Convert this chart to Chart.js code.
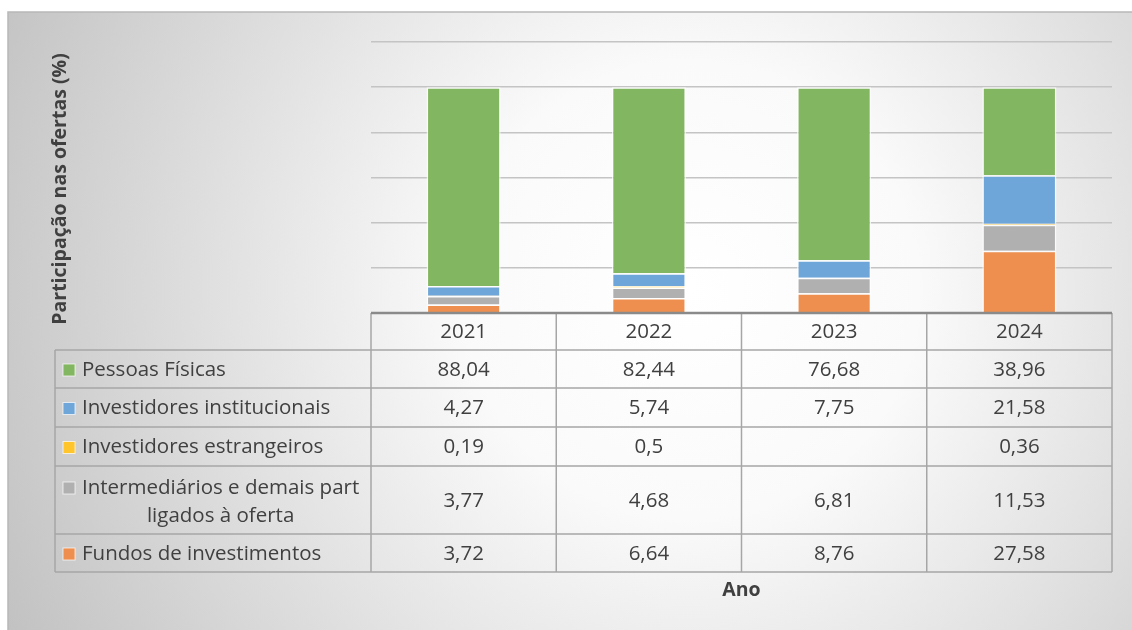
<!DOCTYPE html>
<html lang="pt">
<head>
<meta charset="utf-8">
<title>Participação nas ofertas</title>
<script src="https://cdn.jsdelivr.net/npm/chart.js@4.4.0/dist/chart.umd.min.js"></script>
<style>
	html, body { margin: 0; padding: 0; background: #ffffff; }
	#wrap { position: relative; width: 1132px; height: 630px; }
</style>
</head>
<body>
<div id="wrap"><canvas id="chart" width="1132" height="630"></canvas></div>
<script>
// data
const years = ["2021", "2022", "2023", "2024"];
const pessoasFisicas = [88.04, 82.44, 76.68, 38.96];
const institucionais = [4.27, 5.74, 7.75, 21.58];
const estrangeiros = [0.19, 0.5, null, 0.36];
const intermediarios = [3.77, 4.68, 6.81, 11.53];
const fundos = [3.72, 6.64, 8.76, 27.58];
const yTicks = [0, 20, 40, 60, 80, 100, 120];

// stack order bottom -> top
const series = [
	{ label: "Fundos de investimentos", data: fundos, color: "#ee8f4f" },
	{ label: "Intermediários e demais part ligados à oferta", lines: ["Intermediários e demais part", "ligados à oferta"], data: intermediarios, color: "#b0b0b0" },
	{ label: "Investidores estrangeiros", data: estrangeiros, color: "#ffc52a" },
	{ label: "Investidores institucionais", data: institucionais, color: "#6fa6d9" },
	{ label: "Pessoas Físicas", data: pessoasFisicas, color: "#83b660" }
];

const FONT = "'Open Sans', 'Noto Sans', sans-serif";
const TEXT = "#404040";
const LINE = "#a6a6a6";

function fmt(v) {
	if (v === null || v === undefined) return "";
	return String(v).replace(".", ",");
}

const tablePlugin = {
	id: "tablePlugin",
	beforeDraw(chart) {
		const ctx = chart.ctx;
		ctx.save();
		const g = ctx.createRadialGradient(690, 290, 0, 690, 290, 760);
		g.addColorStop(0, "#ffffff");
		g.addColorStop(0.3, "#fafafa");
		g.addColorStop(1, "#c2c2c2");
		ctx.fillStyle = g;
		ctx.fillRect(8, 12, 1124, 618);
		ctx.strokeStyle = "#b8b8b8";
		ctx.lineWidth = 1.5;
		ctx.beginPath();
		ctx.moveTo(8, 630);
		ctx.lineTo(8, 12);
		ctx.lineTo(1132, 12);
		ctx.stroke();
		ctx.restore();
	},
	afterDraw(chart) {
		const ctx = chart.ctx;
		const area = chart.chartArea;
		const xs = chart.scales.x;
		const colW = (area.right - area.left) / years.length;
		const tableLeft = 55;
		const rows = [area.bottom, area.bottom + 37, area.bottom + 75, area.bottom + 114, area.bottom + 153, area.bottom + 221, area.bottom + 259];
		ctx.save();

		// table grid
		ctx.strokeStyle = LINE;
		ctx.lineWidth = 1.5;
		ctx.beginPath();
		for (let r = 1; r < rows.length; r++) {
			ctx.moveTo(tableLeft, rows[r]);
			ctx.lineTo(area.right, rows[r]);
		}
		ctx.moveTo(tableLeft, rows[1]);
		ctx.lineTo(tableLeft, rows[rows.length - 1]);
		for (let c = 0; c <= years.length; c++) {
			const x = area.left + c * colW;
			ctx.moveTo(x, rows[0]);
			ctx.lineTo(x, rows[rows.length - 1]);
		}
		ctx.stroke();

		// axis line
		ctx.strokeStyle = "#8a8a8a";
		ctx.lineWidth = 2.5;
		ctx.beginPath();
		ctx.moveTo(area.left, area.bottom);
		ctx.lineTo(area.right, area.bottom);
		ctx.stroke();

		ctx.fillStyle = TEXT;
		ctx.font = "20.5px " + FONT;
		ctx.textAlign = "center";
		ctx.textBaseline = "middle";
		years.forEach((y, i) => {
			ctx.fillText(y, xs.getPixelForValue(i), (rows[0] + rows[1]) / 2 + 1);
		});

		// rows: top to bottom in reverse stack order
		const ordered = series.slice().reverse();
		ordered.forEach((s, r) => {
			const top = rows[r + 1], bot = rows[r + 2];
			const cy = (top + bot) / 2 + 1;
			s.data.forEach((v, i) => {
				ctx.fillStyle = TEXT;
				ctx.textAlign = "center";
				ctx.fillText(fmt(v), xs.getPixelForValue(i), cy);
			});
			const lines = s.lines || [s.label];
			const w0 = ctx.measureText(lines[0]).width;
			const textX = 82;
			const lineCy = lines.length > 1 ? cy - 13 : cy;
			// legend key
			ctx.fillStyle = s.color;
			ctx.fillRect(63, lineCy - 6, 12, 12);
			ctx.strokeStyle = "rgba(255,255,255,0.7)";
			ctx.lineWidth = 1;
			ctx.strokeRect(63, lineCy - 6, 12, 12);
			ctx.fillStyle = TEXT;
			if (lines.length > 1) {
				ctx.textAlign = "center";
				const mid = textX + w0 / 2;
				ctx.fillText(lines[0], mid, cy - 13);
				ctx.fillText(lines[1], mid, cy + 15);
			} else {
				ctx.textAlign = "left";
				ctx.fillText(lines[0], textX, cy);
			}
		});

		// axis titles
		ctx.fillStyle = TEXT;
		ctx.font = "bold 19.5px " + FONT;
		ctx.textAlign = "center";
		ctx.fillText("Ano", (area.left + area.right) / 2, 590);
		ctx.translate(60, 189);
		ctx.rotate(-Math.PI / 2);
		ctx.fillText("Participação nas ofertas (%)", 0, 0);
		ctx.restore();
	}
};

new Chart(document.getElementById("chart"), {
	type: "bar",
	data: {
		labels: years,
		datasets: series.map(s => ({
			label: s.label,
			data: s.data,
			backgroundColor: s.color,
			borderColor: "rgba(255,255,255,0.75)",
			borderWidth: 1.5,
			barPercentage: 0.4,
			categoryPercentage: 1
		}))
	},
	options: {
		responsive: false,
		animation: false,
		events: [],
		layout: { padding: { left: 371, right: 20, top: 42, bottom: 309 } },
		plugins: { legend: { display: false }, tooltip: { enabled: false }, title: { display: false } },
		scales: {
			x: {
				stacked: true,
				ticks: { display: false },
				grid: { display: false },
				border: { display: false }
			},
			y: {
				stacked: true,
				min: yTicks[0],
				max: yTicks[yTicks.length - 1],
				afterBuildTicks(scale) { scale.ticks = yTicks.map(v => ({ value: v })); },
				ticks: { display: false },
				grid: { color: "#c4c4c4", lineWidth: 1.5, drawTicks: false },
				border: { display: false }
			}
		}
	},
	plugins: [tablePlugin]
});
</script>
</body>
</html>
